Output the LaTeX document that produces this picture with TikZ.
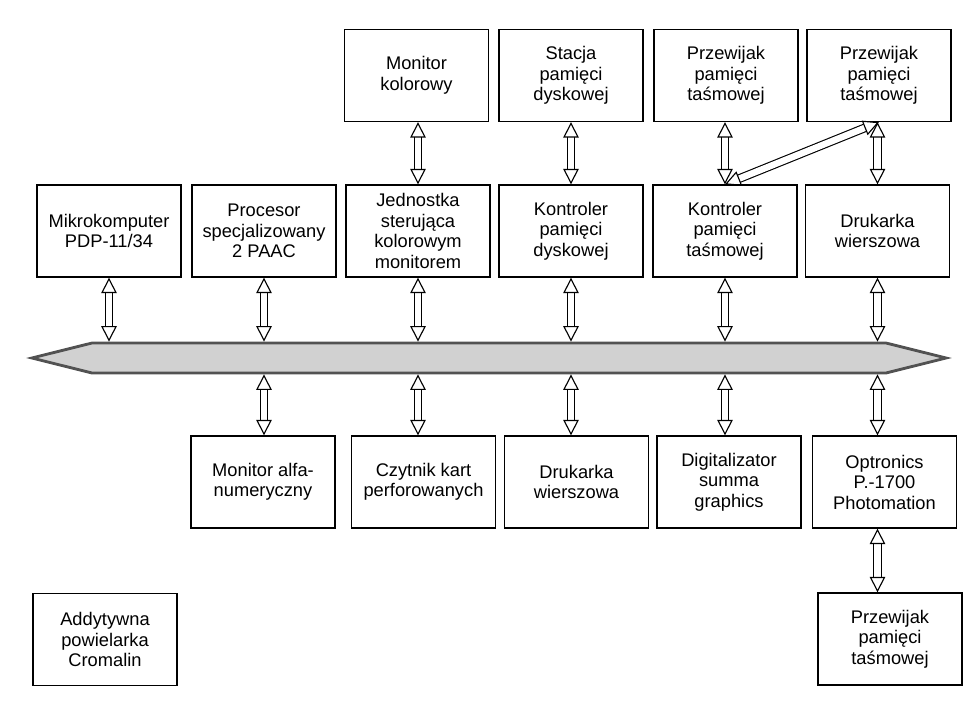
\documentclass[tikz,border=0pt]{standalone}
\usepackage{fontspec}
\setmainfont{Liberation Sans}
\usetikzlibrary{arrows.meta,shapes.arrows}

\tikzset{
  blok/.style={draw, line width=0.9pt, minimum width=3.6cm, minimum height=2.3cm,
    align=center, inner sep=1pt, font=\fontsize{13}{14.6}\selectfont},
  dwustr/.style={double, double distance=4.6pt, line width=0.8pt,
    {Triangle[open,length=11pt,width=11pt]}-{Triangle[open,length=11pt,width=11pt]}},
  szyna/.style={double arrow, double arrow head extend=0pt, double arrow tip angle=28,
    draw=black!68, line width=2pt, fill=black!18, minimum width=0.75cm,
    minimum height=22.85cm, inner sep=0pt}
}

\begin{document}
\begin{tikzpicture}[x=0.025cm,y=-0.025cm]
    \useasboundingbox (0,0) rectangle (976,711);

    % urzadzenia nad jednostkami
    \node[blok] (monkol) at (416.5,75.5) {Monitor\\kolorowy};
    \node[blok] (stacja) at (571,75.5) {Stacja\\pamięci\\dyskowej};
    \node[blok] (przewA) at (726,75.5) {Przewijak\\pamięci\\taśmowej};
    \node[blok] (przewB) at (879,75.5) {Przewijak\\pamięci\\taśmowej};

    % jednostki przy szynie
    \node[blok] (mikro) at (109,231) {Mikrokomputer\\PDP-11/34};
    \node[blok] (procesor) at (264,231) {Procesor\\specjalizowany\\2 PAAC};
    \node[blok] (jednostka) at (418,231) {Jednostka\\sterująca\\kolorowym\\monitorem};
    \node[blok] (kontdysk) at (571,231) {Kontroler\\pamięci\\dyskowej};
    \node[blok] (konttasm) at (725,231) {Kontroler\\pamięci\\taśmowej};
    \node[blok] (drukA) at (877.5,231) {Drukarka\\wierszowa};

    % szyna
    \node[szyna] (szyna) at (489,358) {};

    % jednostki pod szyna
    \node[blok] (monalfa) at (263,482) {Monitor alfa-\\numeryczny};
    \node[blok] (czytnik) at (423.5,482) {Czytnik kart\\perforowanych};
    \node[blok] (drukB) at (576.5,482) {Drukarka\\wierszowa};
    \node[blok] (digit) at (729,482) {Digitalizator\\summa\\graphics};
    \node[blok] (optron) at (884.5,482) {Optronics\\P.-1700\\Photomation};

    \node[blok] (addyt) at (105,639.5) {Addytywna\\powielarka\\Cromalin};
    \node[blok] (przewC) at (890,639) {Przewijak\\pamięci\\taśmowej};

    % polaczenia
    \draw[dwustr] (monkol.south -| jednostka.north) -- (jednostka.north);
    \draw[dwustr] (stacja.south) -- (kontdysk.north);
    \draw[dwustr] (przewA.south -| konttasm.north) -- (konttasm.north);
    \draw[dwustr] (przewB.south) -- (konttasm.north);
    \draw[dwustr] (przewB.south -| drukA.north) -- (drukA.north);

    \foreach \j in {mikro,procesor,jednostka,kontdysk,konttasm,drukA}
        \draw[dwustr] (\j.south) -- (\j.south |- szyna.north);

    \draw[dwustr] (procesor.south |- szyna.south) -- (procesor.south |- monalfa.north);
    \draw[dwustr] (jednostka.south |- szyna.south) -- (jednostka.south |- czytnik.north);
    \draw[dwustr] (kontdysk.south |- szyna.south) -- (kontdysk.south |- drukB.north);
    \draw[dwustr] (konttasm.south |- szyna.south) -- (konttasm.south |- digit.north);
    \draw[dwustr] (drukA.south |- szyna.south) -- (drukA.south |- optron.north);

    \draw[dwustr] (optron.south -| drukA.south) -- (przewC.north -| drukA.south);
\end{tikzpicture}
\end{document}
